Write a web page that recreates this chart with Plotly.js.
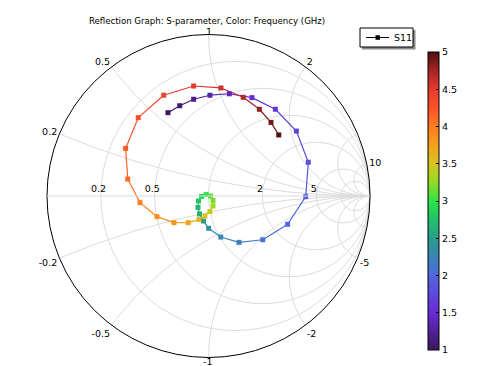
<!DOCTYPE html>
<html>
<head>
<meta charset="utf-8">
<script src="https://cdn.plot.ly/plotly-3.0.1.min.js"></script>
<style>html,body{margin:0;padding:0;background:#fff;}#chart{width:479px;height:366px;}</style>
</head>
<body>
<div id="chart"></div>
<script>
// Frequency (GHz) for each sample
const freq = [1.0,1.1,1.2,1.3,1.4,1.5,1.6,1.7,1.8,1.9,2.0,2.1,2.2,2.3,2.4,2.5,2.6,2.7,2.8,2.9,3.0,
              3.1,3.2,3.3,3.4,3.5,3.6,3.7,3.8,3.9,4.0,4.1,4.2,4.3,4.4,4.5,4.6,4.7,4.8,4.9,5.0];
const s11Re = [-0.251,-0.178,-0.092,0.009,0.129,0.269,0.414,0.544,0.618,0.602,0.490,0.336,0.189,0.076,0.001,
               -0.031,-0.056,-0.065,-0.062,-0.043,-0.015,0.012,0.028,0.028,0.009,-0.022,-0.059,
               -0.125,-0.214,-0.319,-0.424,-0.500,-0.513,-0.435,-0.277,-0.092,0.077,0.215,0.315,0.387,0.435];
const s11Im = [0.516,0.559,0.599,0.624,0.633,0.609,0.537,0.402,0.209,-0.004,-0.175,-0.271,-0.287,-0.254,-0.200,
               -0.155,-0.111,-0.071,-0.031,-0.003,0.009,0.000,-0.028,-0.062,-0.096,-0.124,-0.146,
               -0.165,-0.165,-0.128,-0.041,0.105,0.295,0.485,0.624,0.681,0.669,0.611,0.537,0.456,0.378];
const resistanceTicks = [0.2,0.5,1,2,5,10];
const reactanceTicks = [-10,-5,-2,-1,-0.5,-0.2,0.2,0.5,1,2,5,10];
const colorbarTicks = [1,1.5,2,2.5,3,3.5,4,4.5,5];
const seriesName = 'S11';

// normalized impedance z = (1+G)/(1-G)
const zRe = [], zIm = [];
for (let i = 0; i < s11Re.length; i++) {
  const a = 1 + s11Re[i], b = s11Im[i], c = 1 - s11Re[i], d = -s11Im[i];
  const den = c*c + d*d;
  zRe.push((a*c + b*d)/den);
  zIm.push((b*c - a*d)/den);
}

const cscale = [
  [0.0,'#3c1a5b'],[0.05,'#4a1f8c'],[0.125,'#6a2ad8'],[0.25,'#5168de'],[0.3125,'#3a84b6'],
  [0.375,'#2a9e8c'],[0.4375,'#22c068'],[0.5,'#2ee446'],[0.5625,'#92dc24'],[0.625,'#d8c41e'],
  [0.6875,'#f3a01c'],[0.75,'#ff7c20'],[0.8125,'#ff5228'],[0.875,'#e6392f'],[0.9375,'#a42424'],[1.0,'#4e1010']
];
function hex2rgb(h){return [parseInt(h.substr(1,2),16),parseInt(h.substr(3,2),16),parseInt(h.substr(5,2),16)];}
function colorAt(f){
  const t = Math.max(0, Math.min(1, (f-1)/4));
  for (let k = 0; k < cscale.length-1; k++) {
    const [t0,c0] = cscale[k], [t1,c1] = cscale[k+1];
    if (t >= t0 && t <= t1) {
      const u = (t - t0)/(t1 - t0), A = hex2rgb(c0), B = hex2rgb(c1);
      return 'rgb(' + A.map((v,j)=>Math.round(v + (B[j]-v)*u)).join(',') + ')';
    }
  }
  return cscale[cscale.length-1][1];
}

const traces = [];
for (let i = 0; i < freq.length-1; i++) {
  traces.push({type:'scattersmith', real:[zRe[i],zRe[i+1]], imag:[zIm[i],zIm[i+1]], mode:'lines',
    line:{color:colorAt((freq[i]+freq[i+1])/2), width:1.2}, showlegend:false, hoverinfo:'skip'});
}
traces.push({type:'scattersmith', real:zRe, imag:zIm, mode:'markers', showlegend:false, name:seriesName,
  marker:{symbol:'square', size:5, color:freq, colorscale:cscale, cmin:1, cmax:5,
    colorbar:{x:428/479, xanchor:'left', y:1-201/366, yanchor:'middle', len:298, lenmode:'pixels',
      thickness:11, outlinecolor:'#000', outlinewidth:1, tickvals:colorbarTicks, ticks:'inside',
      ticklen:3, tickcolor:'#000', tickfont:{family:'DejaVu Sans', size:9.5, color:'#000'}, xpad:0, ypad:0}}});

const tf = {family:'DejaVu Sans', size:9.5, color:'#000'};
const P = (px, py) => ({x: px/479, y: 1 - py/366});
const layout = {
  width:479, height:366, margin:{l:0,r:0,t:0,b:0}, paper_bgcolor:'#fff',
  title:{text:'Reflection Graph: S-parameter, Color: Frequency (GHz)', x:207/479, xanchor:'center',
    y:1-21/366, yanchor:'middle', font:{family:'DejaVu Sans', size:8.6, color:'#000'}},
  showlegend:false,
  smith:{
    domain:{x:[47/479, 370/479], y:[8.5/366, 331.5/366]},
    bgcolor:'#fff',
    realaxis:{tickvals:resistanceTicks, side:'top', ticks:'', ticklen:0, tickangle:0, gridcolor:'#dcdcdc', gridwidth:1,
      showline:true, linecolor:'#dcdcdc', tickfont:tf,
      labelalias:{'1':'', '10':'', '0.2':'0.2\u2002', '0.5':'0.5\u2002', '2':'2\u2002', '5':'5\u2002'}},
    imaginaryaxis:{tickvals:reactanceTicks, ticks:'', ticklen:0, gridcolor:'#dcdcdc', gridwidth:1,
      showline:true, linecolor:'#000', linewidth:1, tickfont:tf,
      labelalias:{'\u221210':'', '-10':'', '5':'', '1':'', '\u22121':'', '\u22125':'-5', '\u22122':'-2',
        '\u22120.5':'-0.5', '\u22120.2':'-0.2'}}
  },
  shapes:[
    {type:'rect', xref:'paper', yref:'paper', x0:P(373,0).x, x1:P(390,0).x, y0:P(0,203).y, y1:P(0,189).y,
      fillcolor:'#fff', line:{width:0}, layer:'above'},
    {type:'rect', xref:'paper', yref:'paper', x0:P(362,0).x, x1:P(415.5,0).x, y0:P(0,49.5).y, y1:P(0,30).y,
      fillcolor:'#8a8a8a', line:{width:0}},
    {type:'rect', xref:'paper', yref:'paper', x0:P(360,0).x, x1:P(413,0).x, y0:P(0,47).y, y1:P(0,28).y,
      fillcolor:'#fff', line:{color:'#000', width:1}},
    {type:'line', xref:'paper', yref:'paper', x0:P(366,0).x, x1:P(389,0).x, y0:P(0,37.5).y, y1:P(0,37.5).y,
      line:{color:'#000', width:1}},
    {type:'rect', xref:'paper', yref:'paper', x0:P(375.5,0).x, x1:P(380,0).x, y0:P(0,39.8).y, y1:P(0,35.3).y,
      fillcolor:'#000', line:{width:0}}
  ],
  annotations:[
    {text:seriesName, xref:'paper', yref:'paper', x:P(392,0).x, y:P(0,37.5).y, xanchor:'left',
      yanchor:'middle', showarrow:false, font:tf},
    {text:'1', xref:'paper', yref:'paper', x:P(208.5,0).x, y:P(0,31.5).y, xanchor:'center',
      yanchor:'middle', showarrow:false, font:tf},
    {text:'-1', xref:'paper', yref:'paper', x:P(207.5,0).x, y:P(0,361).y, xanchor:'center',
      yanchor:'middle', showarrow:false, font:tf}
  ]
};
Plotly.newPlot('chart', traces, layout, {displayModeBar:false, staticPlot:true});
</script>
</body>
</html>
